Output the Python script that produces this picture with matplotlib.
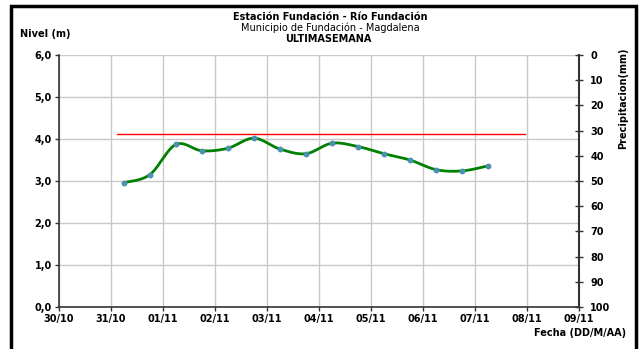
import numpy as np
import matplotlib.pyplot as plt
import matplotlib.dates as mdates
from matplotlib.patches import Rectangle
import datetime as dt

plt.rcParams['font.family'] = ['DejaVu Sans']

# readings every 12 h from 31/10 06:00
start = dt.datetime(2013, 10, 31, 6, 0)
times = [start + dt.timedelta(hours=12 * i) for i in range(15)]
nivel = [2.96, 3.15, 3.87, 3.72, 3.78, 4.02, 3.76, 3.65,
         3.90, 3.82, 3.65, 3.50, 3.27, 3.24, 3.36]

alert_level = 4.11
alert_start = dt.datetime(2013, 10, 31, 3, 0)
alert_end = dt.datetime(2013, 11, 7, 23, 0)

x_ticks = [dt.datetime(2013, 10, 30) + dt.timedelta(days=d) for d in range(11)]
y_ticks = [0, 1, 2, 3, 4, 5, 6]
prec_ticks = list(range(0, 101, 10))

FS = 7


def catmull_rom(xs, ys, n=20):
    # smooth curve through the points, like Excel's smoothed line
    xs = np.asarray(xs, float)
    ys = np.asarray(ys, float)
    px = np.concatenate([[xs[0]], xs, [xs[-1]]])
    py = np.concatenate([[ys[0]], ys, [ys[-1]]])
    out_x, out_y = [], []
    t = np.linspace(0, 1, n, endpoint=False)
    for i in range(1, len(px) - 2):
        for p, out in ((px, out_x), (py, out_y)):
            p0, p1, p2, p3 = p[i - 1], p[i], p[i + 1], p[i + 2]
            out.extend(0.5 * ((2 * p1) + (-p0 + p2) * t
                              + (2 * p0 - 5 * p1 + 4 * p2 - p3) * t ** 2
                              + (-p0 + 3 * p1 - 3 * p2 + p3) * t ** 3))
    out_x.append(xs[-1])
    out_y.append(ys[-1])
    return np.array(out_x), np.array(out_y)


fig = plt.figure(figsize=(6.4, 3.49), dpi=100)
ax = fig.add_axes([0.0917, 0.1203, 0.8133, 0.7221])

tnum = mdates.date2num(times)
sx, sy = catmull_rom(tnum, nivel)
ax.plot(sx, sy, color='#008000', linewidth=2, zorder=3)
ax.plot(tnum, nivel, 'o', color='#4a90b0', markersize=3.2, zorder=4)
ax.plot(mdates.date2num([alert_start, alert_end]), [alert_level, alert_level],
        color='red', linewidth=1, zorder=2)

ax.set_xlim(mdates.date2num(x_ticks[0]), mdates.date2num(x_ticks[-1]))
ax.set_ylim(0, 6)
ax.set_xticks(mdates.date2num(x_ticks))
ax.set_xticklabels([d.strftime('%d/%m') for d in x_ticks], fontsize=FS, fontweight='bold')
ax.set_yticks(y_ticks)
ax.set_yticklabels([f'{v:.1f}'.replace('.', ',') for v in y_ticks], fontsize=FS, fontweight='bold')
ax.grid(True, color='#c8c8c8', linewidth=1)
ax.set_axisbelow(True)
ax.tick_params(axis='both', direction='out', length=3, width=1, color='#333333', pad=2)

for s in ('left', 'bottom'):
    ax.spines[s].set_color('#333333')
    ax.spines[s].set_linewidth(1.2)
ax.spines['top'].set_visible(False)
ax.spines['right'].set_visible(False)

ax2 = ax.twinx()
ax2.set_ylim(100, 0)
ax2.set_yticks(prec_ticks)
ax2.set_yticklabels([str(v) for v in prec_ticks], fontsize=FS, fontweight='bold')
ax2.tick_params(axis='y', direction='inout', length=6, width=1, color='#333333', pad=5)
ax2.spines['right'].set_color('#333333')
ax2.spines['right'].set_linewidth(1.5)
for s in ('left', 'top', 'bottom'):
    ax2.spines[s].set_visible(False)
ax2.set_ylabel('Precipitacion(mm)', fontsize=FS, fontweight='bold', ha='right')
ax2.yaxis.set_label_coords(1.074, 1.03)

fig.text(0.516, 0.952, 'Estación Fundación - Río Fundación', ha='center', va='center',
         fontsize=FS, fontweight='bold')
fig.text(0.516, 0.920, 'Municipio de Fundación - Magdalena', ha='center', va='center',
         fontsize=FS)
fig.text(0.513, 0.888, 'ULTIMASEMANA', ha='center', va='center',
         fontsize=FS, fontweight='bold')
fig.text(0.032, 0.903, 'Nivel (m)', ha='left', va='center', fontsize=FS, fontweight='bold')
fig.text(0.978, 0.046, 'Fecha (DD/M/AA)', ha='right', va='center', fontsize=FS, fontweight='bold')

fig.patches.append(Rectangle((0.0175, -0.02), 0.977, 1.004, transform=fig.transFigure,
                             fill=False, edgecolor='black', linewidth=2.5))

fig.savefig('out.png', dpi=100)
